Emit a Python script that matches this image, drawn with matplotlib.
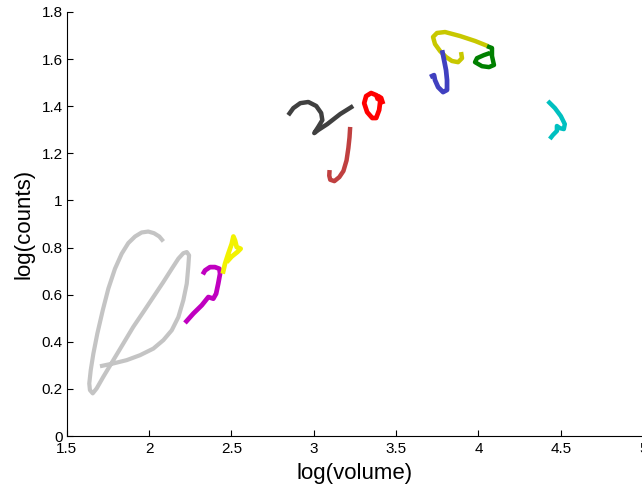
import matplotlib
matplotlib.use("Agg")
import matplotlib.pyplot as plt

plt.rcParams['font.family'] = ['Liberation Sans', 'DejaVu Sans']

gray_x = [1.702, 1.783, 1.864, 1.945, 2.026, 2.087, 2.138, 2.178, 2.208, 2.229, 2.238, 2.243, 2.229, 2.208,
          2.178, 2.138, 2.087, 2.026, 1.965, 1.904, 1.844, 1.783, 1.722, 1.682, 1.658, 1.641, 1.637, 1.646,
          1.662, 1.686, 1.719, 1.753, 1.793, 1.834, 1.874, 1.915, 1.955, 1.995, 2.030, 2.062, 2.087]
gray_y = [0.296, 0.308, 0.322, 0.343, 0.371, 0.407, 0.449, 0.505, 0.576, 0.647, 0.717, 0.767, 0.781, 0.776,
          0.753, 0.710, 0.654, 0.590, 0.526, 0.463, 0.393, 0.322, 0.251, 0.202, 0.181, 0.195, 0.223, 0.280,
          0.350, 0.435, 0.534, 0.626, 0.710, 0.774, 0.819, 0.847, 0.864, 0.868, 0.861, 0.847, 0.826]

magenta_x = [2.218, 2.269, 2.320, 2.360, 2.390, 2.407, 2.420, 2.431, 2.427, 2.400, 2.370, 2.340, 2.326]
magenta_y = [0.480, 0.520, 0.555, 0.590, 0.583, 0.604, 0.647, 0.689, 0.710, 0.717, 0.717, 0.703, 0.686]

yellow_x = [2.447, 2.461, 2.481, 2.502, 2.512, 2.522, 2.532, 2.556, 2.536, 2.502, 2.471]
yellow_y = [0.689, 0.731, 0.774, 0.816, 0.847, 0.830, 0.802, 0.795, 0.781, 0.762, 0.738]

dark_x = [2.845, 2.876, 2.918, 2.967, 3.015, 3.045, 3.052, 3.027, 3.003, 3.027, 3.082, 3.161, 3.239]
dark_y = [1.362, 1.392, 1.413, 1.418, 1.401, 1.371, 1.341, 1.312, 1.286, 1.299, 1.324, 1.367, 1.401]

brown_x = [3.221, 3.217, 3.210, 3.199, 3.180, 3.155, 3.125, 3.100, 3.094, 3.096]
brown_y = [1.312, 1.268, 1.222, 1.170, 1.125, 1.099, 1.082, 1.088, 1.105, 1.129]

red_x = [3.391, 3.379, 3.348, 3.318, 3.306, 3.324, 3.355, 3.379, 3.397, 3.403, 3.391, 3.409, 3.421]
red_y = [1.426, 1.447, 1.456, 1.443, 1.413, 1.375, 1.350, 1.350, 1.384, 1.418, 1.443, 1.435, 1.409]

olive_x = [3.894, 3.900, 3.876, 3.839, 3.803, 3.767, 3.736, 3.724, 3.748, 3.797, 3.888, 3.979, 4.058]
olive_y = [1.630, 1.604, 1.587, 1.592, 1.609, 1.634, 1.664, 1.694, 1.711, 1.715, 1.698, 1.677, 1.655]

blue_x = [3.779, 3.791, 3.803, 3.809, 3.809, 3.785, 3.755, 3.736, 3.730, 3.706]
blue_y = [1.638, 1.596, 1.553, 1.511, 1.469, 1.460, 1.481, 1.511, 1.532, 1.524]

green_x = [4.052, 4.082, 4.082, 4.094, 4.064, 4.021, 3.979, 3.991, 4.033, 4.070]
green_y = [1.655, 1.647, 1.613, 1.575, 1.566, 1.570, 1.587, 1.604, 1.617, 1.626]

cyan_x = [4.421, 4.464, 4.500, 4.524, 4.518, 4.494, 4.476, 4.476, 4.452, 4.433]
cyan_y = [1.422, 1.392, 1.358, 1.324, 1.303, 1.307, 1.316, 1.295, 1.278, 1.261]

xticks = [1.5, 2, 2.5, 3, 3.5, 4, 4.5, 5]
xticklabels = ['1.5', '2', '2.5', '3', '3.5', '4', '4.5', '5']
yticks = [0, 0.2, 0.4, 0.6, 0.8, 1, 1.2, 1.4, 1.6, 1.8]
yticklabels = ['0', '0.2', '0.4', '0.6', '0.8', '1', '1.2', '1.4', '1.6', '1.8']

fig = plt.figure(figsize=(6.42, 4.87), dpi=100)
ax = fig.add_axes([66.7/642, 51/487, 576.5/642, 424/487])

series = [
    (gray_x, gray_y, '#c4c4c4', 3.0),
    (magenta_x, magenta_y, '#c000c0', 3.4),
    (yellow_x, yellow_y, '#f2f200', 3.4),
    (dark_x, dark_y, '#404040', 3.2),
    (brown_x, brown_y, '#c04040', 3.2),
    (red_x, red_y, '#ff0000', 3.4),
    (olive_x, olive_y, '#c8c800', 3.2),
    (blue_x, blue_y, '#4040c0', 3.4),
    (green_x, green_y, '#008000', 3.2),
    (cyan_x, cyan_y, '#00c0c0', 3.2),
]
for xs, ys, c, lw in series:
    ax.plot(xs, ys, color=c, lw=lw, solid_capstyle='butt', solid_joinstyle='round')

ax.set_xlim(1.5, 5)
ax.set_ylim(0, 1.8)
ax.set_xticks(xticks)
ax.set_xticklabels(xticklabels)
ax.set_yticks(yticks)
ax.set_yticklabels(yticklabels)
ax.tick_params(direction='in', length=4, width=0.8, labelsize=11)
ax.tick_params(axis='x', pad=4)
ax.tick_params(axis='y', pad=3)
for s in ['top', 'right']:
    ax.spines[s].set_visible(False)
for s in ['left', 'bottom']:
    ax.spines[s].set_linewidth(0.8)
ax.set_xlabel('log(volume)', fontsize=16, labelpad=5)
ax.set_ylabel('log(counts)', fontsize=16, labelpad=5)

fig.savefig('out.png', dpi=100)
